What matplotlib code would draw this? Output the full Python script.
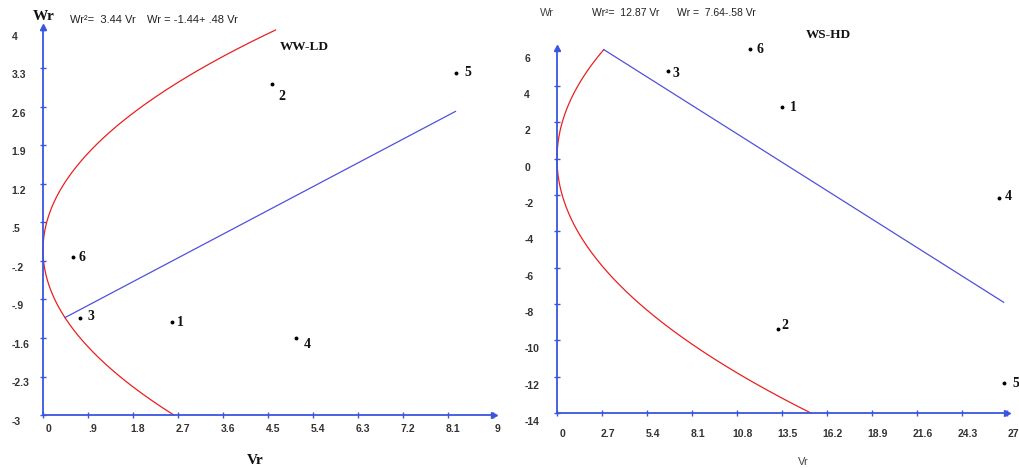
import numpy as np
import matplotlib.pyplot as plt
from matplotlib.transforms import ScaledTranslation

# ---- left panel: WW-LD ----
ww_names = ["1", "2", "3", "4", "5", "6"]
ww_vr = [2.58, 4.58, 0.74, 5.06, 8.26, 0.60]
ww_wr = [-1.31, 3.02, -1.24, -1.60, 3.22, -0.13]
ww_a = 3.44                  # Wr^2 = a * Vr
ww_b0, ww_b1 = -1.44, 0.48   # Wr = b0 + b1 * Vr
ww_wr_span = (-3.0, 4.0)     # part of the parabola that is drawn
ww_line_vr = (0.44, 8.25)    # part of the regression line that is drawn
ww_xticks = [0, 0.9, 1.8, 2.7, 3.6, 4.5, 5.4, 6.3, 7.2, 8.1, 9]
ww_xlabels = ["0", ".9", "1.8", "2.7", "3.6", "4.5", "5.4", "6.3", "7.2", "8.1", "9"]
ww_yticks = [-3, -2.3, -1.6, -0.9, -0.2, 0.5, 1.2, 1.9, 2.6, 3.3, 4]
ww_ylabels = ["-3", "-2.3", "-1.6", "-.9", "-.2", ".5", "1.2", "1.9", "2.6", "3.3", "4"]
ww_equations = ["Wr\u00b2=  3.44 Vr", "Wr = -1.44+ .48 Vr"]

# ---- right panel: WS-HD ----
ws_names = ["1", "2", "3", "4", "5", "6"]
ws_vr = [13.5, 13.26, 6.66, 26.5, 26.8, 11.58]
ws_wr = [2.86, -9.37, 4.84, -2.15, -12.35, 6.05]
ws_a = 12.87
ws_b0, ws_b1 = 7.64, -0.58
ws_wr_span = (-14.0, 6.01)
ws_line_vr = (2.81, 26.8)
ws_xticks = [0, 2.7, 5.4, 8.1, 10.8, 13.5, 16.2, 18.9, 21.6, 24.3, 27]
ws_xlabels = ["0", "2.7", "5.4", "8.1", "10.8", "13.5", "16.2", "18.9", "21.6", "24.3", "27"]
ws_yticks = [-14, -12, -10, -8, -6, -4, -2, 0, 2, 4, 6]
ws_ylabels = [str(v) for v in ws_yticks]
ws_equations = ["Wr\u00b2=  12.87 Vr", "Wr =  7.64-.58 Vr"]

# label offsets (pixels) for the point numbers
ww_offsets = [(8, 0), (10, -13), (11, 2), (11, -6), (12, 0), (9, 0)]
ws_offsets = [(11, -1), (7, 3), (8, -3), (10, 1), (12, 0), (10, -1)]

AXIS_BLUE = "#3a55e0"
LINE_BLUE = "#5050dd"
RED = "#e82020"
SERIF = ["Liberation Serif", "DejaVu Serif"]
SANS = ["Liberation Sans", "DejaVu Sans"]

W, H = 1020, 468
fig = plt.figure(figsize=(W / 100, H / 100), dpi=100)


def px_axes(x0, x1, ytop, ybot):
    return fig.add_axes([x0 / W, (H - ybot) / H, (x1 - x0) / W, (ybot - ytop) / H])


def style_axes(ax, xticks, xlabels, yticks, ylabels, xpad, ypad, xshift, yshift):
    for s in ["top", "right"]:
        ax.spines[s].set_visible(False)
    for s in ["left", "bottom"]:
        ax.spines[s].set_color(AXIS_BLUE)
        ax.spines[s].set_linewidth(1.3)
    ax.plot(1, 0, ">", ms=5, color=AXIS_BLUE, transform=ax.transAxes, clip_on=False)
    ax.plot(0, 1, "^", ms=5, color=AXIS_BLUE, transform=ax.transAxes, clip_on=False)
    ax.set_xticks(xticks, xlabels)
    ax.set_yticks(yticks, ylabels)
    ax.tick_params(direction="inout", length=5, width=1, color=AXIS_BLUE,
                   labelsize=7.5, labelcolor="#333333")
    ax.tick_params(axis="x", pad=xpad)
    ax.tick_params(axis="y", pad=ypad)
    for lab in ax.get_xticklabels():
        lab.set_fontweight("bold")
        lab.set_family(SANS)
        lab.set_transform(lab.get_transform() + ScaledTranslation(xshift / 100, 0, fig.dpi_scale_trans))
    for lab in ax.get_yticklabels():
        lab.set_fontweight("bold")
        lab.set_family(SANS)
        lab.set_horizontalalignment("left")
        lab.set_transform(lab.get_transform() + ScaledTranslation(0, -yshift / 100, fig.dpi_scale_trans))


def draw_panel(ax, a, b0, b1, wr_span, line_vr, vr, wr, names, offsets):
    w = np.linspace(wr_span[0], wr_span[1], 400)
    ax.plot(w ** 2 / a, w, color=RED, lw=0.9, clip_on=False)
    lv = np.array(line_vr)
    ax.plot(lv, b0 + b1 * lv, color=LINE_BLUE, lw=0.9, clip_on=False)
    ax.plot(vr, wr, "o", ms=1.8, color="black", clip_on=False)
    for x, y, n, (dx, dy) in zip(vr, wr, names, offsets):
        ax.annotate(n, (x, y), xytext=(dx, dy), textcoords="offset pixels",
                    ha="center", va="center", fontsize=10, fontweight="bold",
                    family=SERIF, color="#111111")


# left panel
ax1 = px_axes(43, 494, 27.25, 415)
ax1.set_xlim(0, 9.02)
ax1.set_ylim(-3, 4.05)
draw_panel(ax1, ww_a, ww_b0, ww_b1, ww_wr_span, ww_line_vr, ww_vr, ww_wr, ww_names, ww_offsets)
style_axes(ax1, ww_xticks, ww_xlabels, ww_yticks, ww_ylabels, xpad=4, ypad=20, xshift=5, yshift=6)

# right panel
ax2 = px_axes(557, 1007, 48, 413)
ax2.set_xlim(0, 27)
ax2.set_ylim(-14, 6.1)
draw_panel(ax2, ws_a, ws_b0, ws_b1, ws_wr_span, ws_line_vr, ws_vr, ws_wr, ws_names, ws_offsets)
style_axes(ax2, ws_xticks, ws_xlabels, ws_yticks, ws_ylabels, xpad=9, ypad=21, xshift=6, yshift=8)


# texts around the panels (figure pixel positions)
def ftext(x, y, s, ha="center", **kw):
    fig.text(x / W, 1 - y / H, s, ha=ha, va="center", **kw)


ftext(44, 17, "Wr", fontsize=11, fontweight="bold", family=SERIF, color="#111111")
ftext(255, 461, "Vr", fontsize=11, fontweight="bold", family=SERIF, color="#111111")
ftext(304, 47, "WW-LD", fontsize=9.5, fontweight="bold", family=SERIF, color="#111111")
ftext(70, 20, ww_equations[0], ha="left", fontsize=8, family=SANS, color="#222222")
ftext(147, 20, ww_equations[1], ha="left", fontsize=8, family=SANS, color="#222222")

ftext(547, 13, "Wr", fontsize=8, family=SANS, color="#444444")
ftext(803, 462, "Vr", fontsize=8, family=SANS, color="#444444")
ftext(828, 35, "WS-HD", fontsize=9.5, fontweight="bold", family=SERIF, color="#111111")
ftext(592, 13, ws_equations[0], ha="left", fontsize=7.5, family=SANS, color="#222222")
ftext(677, 13, ws_equations[1], ha="left", fontsize=7.5, family=SANS, color="#222222")

fig.savefig("out.png", dpi=100, facecolor="white")
